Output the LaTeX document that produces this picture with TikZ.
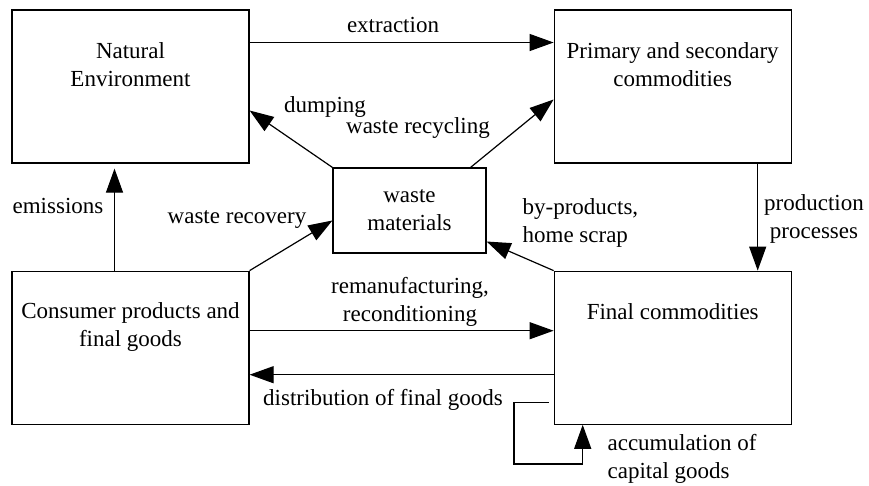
\documentclass[tikz,border=0pt]{standalone}
\usepackage{fontspec}
\setmainfont{Liberation Serif}
\usetikzlibrary{positioning,arrows.meta}

\begin{document}
\begin{tikzpicture}[x=1pt, y=-1pt, line width=1.2pt, >={Triangle[length=24pt,width=17pt]},
    every node/.style={font=\fontsize{23}{28}\selectfont, align=center},
    box/.style={draw, rectangle, minimum width=237pt, minimum height=153pt},
    boxtext/.style={anchor=base, inner sep=0pt},
    lbl/.style={anchor=base, inner sep=0pt}]
        \useasboundingbox (0,0) rectangle (869,485);

        \node (nat) [box] at (130.5,86.5) {};
        \node (prim) [box, right=304pt of nat] {};
        \node (cons) [box, below=107pt of nat] {};
        \node (final) [box, below=107pt of prim] {};
        \node (waste) [draw, rectangle, minimum width=153pt, minimum height=85pt] at (409.5,210.5) {waste\\materials};

        % base of a two-line node is its last line
        \node (nat-t) [boxtext] at ([yshift=-77pt]nat.north) {Natural\\Environment};
        \node (prim-t) [boxtext] at ([yshift=-77pt]prim.north) {Primary and secondary\\commodities};
        \node (cons-t) [boxtext] at ([yshift=-76pt]cons.north) {Consumer products and\\final goods};
        \node (final-t) [boxtext] at ([yshift=-49pt]final.north) {Final commodities};

        \draw[->] ([yshift=44pt]nat.east) -- ([yshift=44pt]prim.west);
        \draw[->] (waste.north west) -- ([yshift=-24pt]nat.east);
        \draw[->] ([xshift=-16pt]waste.north east) -- ([yshift=-13pt]prim.west);
        \draw[->] ([xshift=-16pt]cons.north) -- ([xshift=-16pt, yshift=-5pt]nat.south);
        \draw[->] (cons.north east) -- ([yshift=-10pt]waste.west);
        \draw[->] (final.north west) -- ([yshift=-31pt]waste.east);
        \draw[->] ([xshift=85pt]prim.south) -- ([xshift=85pt]final.north);
        \draw[->] ([yshift=17pt]cons.east) -- ([yshift=17pt]final.west);
        \draw[->] ([yshift=-27pt]final.west) -- ([yshift=-27pt]cons.east);
        \coordinate (loop) at (514,464);
        \draw[->] ([xshift=-5pt, yshift=-54.5pt]final.west) -| (loop) -| ([xshift=-90pt]final.south);

        \node (l-extr) [lbl] at (393,32) {extraction};
        \node (l-dump) [lbl] at (325,112) {dumping};
        \node (l-recy) [lbl] at (418,133) {waste recycling};
        \node (l-emis) [lbl] at (58,213) {emissions};
        \node (l-reco) [lbl] at (237,223) {waste recovery};
        \node (l-byp) [lbl, anchor=base west, align=left] at (522,242) {by-products,\\home scrap};
        \node (l-prod) [lbl] at (814,238) {production\\processes};
        \node (l-reman) [lbl] at (410,321) {remanufacturing,\\reconditioning};
        \node (l-dist) [lbl] at (383,405) {distribution of final goods};
        \node (l-accu) [lbl, anchor=base west, align=left] at (607,478) {accumulation of\\capital goods};
    \end{tikzpicture}
\end{document}
